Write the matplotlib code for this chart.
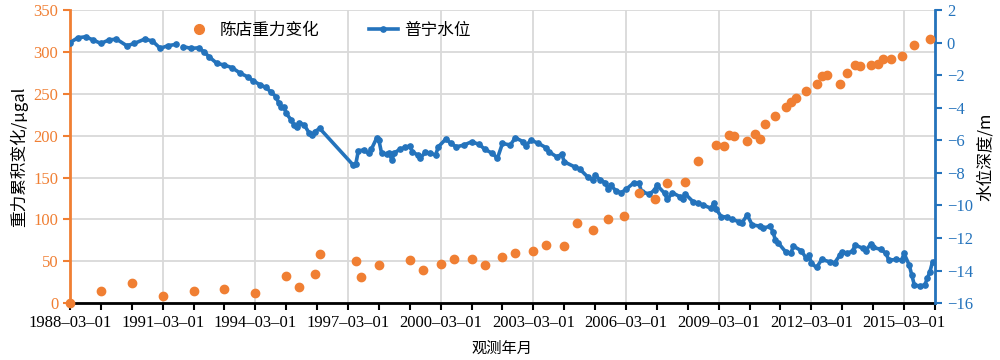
import matplotlib
matplotlib.use('Agg')
import matplotlib.pyplot as plt
import matplotlib.dates as mdates
from matplotlib.lines import Line2D
import numpy as np
import pandas as pd

# 陈店重力累积变化 (μgal)
grav_dates = ['1988-03', '1989-03', '1990-03', '1991-03', '1992-03', '1993-03', '1994-03',
              '1995-03', '1995-08', '1996-02', '1996-04', '1997-06', '1997-08', '1998-03',
              '1999-03', '1999-08', '2000-03', '2000-08', '2001-03', '2001-08', '2002-03',
              '2002-08', '2003-03', '2003-08', '2004-03', '2004-08', '2005-02', '2005-08',
              '2006-02', '2006-08', '2007-02', '2007-07', '2008-02', '2008-07', '2009-02',
              '2009-05', '2009-07', '2009-09', '2010-02', '2010-05', '2010-07', '2010-09',
              '2011-01', '2011-05', '2011-07', '2011-09', '2012-01', '2012-05', '2012-07',
              '2012-09', '2013-02', '2013-05', '2013-08', '2013-10', '2014-02', '2014-05',
              '2014-07', '2014-10', '2015-02', '2015-07', '2016-01']
grav_vals = [0, 14, 24, 9, 14, 17, 12,
             32, 19, 35, 59, 50, 31, 46,
             52, 40, 47, 53, 53, 46, 55,
             60, 62, 69, 68, 96, 87, 100,
             104, 131, 124, 143, 145, 170, 189,
             188, 201, 200, 194, 202, 196, 214,
             224, 234, 240, 245, 253, 262, 271,
             272, 262, 275, 285, 283, 284, 286,
             292, 291, 295, 308, 316]

# 普宁水位深度 (m)
wl_dates = ['1988-03', '1988-06', '1988-09', '1988-12', '1989-03', '1989-06', '1989-09',
            '1990-01', '1990-04', '1990-08', '1990-11', '1991-02', '1991-05', '1991-08',
            '1991-10', '1991-11', '1992-02', '1992-05', '1992-07', '1992-09', '1992-12',
            '1993-03', '1993-06', '1993-09', '1993-12', '1994-02', '1994-05', '1994-07',
            '1994-09', '1994-11', '1994-12', '1995-01', '1995-02', '1995-03', '1995-05',
            '1995-06', '1995-07', '1995-08', '1995-10', '1995-12', '1996-01', '1996-02',
            '1996-04', '1997-05', '1997-06', '1997-07', '1997-09', '1997-11', '1997-12',
            '1998-02', '1998-03', '1998-04', '1998-06', '1998-07', '1998-08', '1998-09',
            '1998-11', '1999-01', '1999-03', '1999-04', '1999-06', '1999-07', '1999-09',
            '1999-11', '2000-01', '2000-02', '2000-05', '2000-07', '2000-09', '2000-12',
            '2001-03', '2001-06', '2001-08', '2001-11', '2002-01', '2002-03', '2002-06',
            '2002-08', '2002-11', '2002-12', '2003-02', '2003-05', '2003-08', '2003-09',
            '2003-12', '2004-02', '2004-03', '2004-07', '2004-09', '2004-12', '2005-02',
            '2005-03', '2005-05', '2005-07', '2005-08', '2005-09', '2005-11', '2006-01',
            '2006-03', '2006-06', '2006-08', '2006-09', '2006-12', '2007-02', '2007-03',
            '2007-06', '2007-07', '2007-09', '2007-12', '2008-01', '2008-02', '2008-05',
            '2008-07', '2008-09', '2008-12', '2009-01', '2009-02', '2009-04', '2009-06',
            '2009-08', '2009-11', '2009-12', '2010-02', '2010-04', '2010-07', '2010-08',
            '2010-11', '2010-12', '2011-01', '2011-02', '2011-05', '2011-07', '2011-08',
            '2011-11', '2012-01', '2012-02', '2012-03', '2012-05', '2012-07', '2012-10',
            '2012-12', '2013-02', '2013-03', '2013-05', '2013-07', '2013-08', '2013-11',
            '2013-12', '2014-02', '2014-03', '2014-06', '2014-08', '2014-09', '2014-12',
            '2015-02', '2015-03', '2015-05', '2015-06', '2015-07', '2015-09', '2015-11',
            '2015-12', '2016-01', '2016-02']
wl_vals = [0.0, 0.30, 0.36, 0.16, -0.05, 0.16, 0.22,
           -0.19, -0.05, 0.22, 0.10, -0.35, -0.19, -0.11,
           np.nan, -0.25, -0.35, -0.32, -0.56, -0.87, -1.27,
           -1.38, -1.54, -1.87, -2.10, -2.34, -2.60, -2.75,
           -3.02, -3.32, -3.69, -3.94, -3.94, -4.35, -4.76,
           -5.06, -5.17, -4.92, -5.06, -5.58, -5.68, -5.47,
           -5.27, -7.52, -7.46, -6.64, -6.60, -6.80, -6.56,
           -5.88, -5.99, -6.77, -6.85, -6.77, -7.21, -6.77,
           -6.56, -6.44, -6.35, -6.70, -6.90, -7.10, -6.74,
           -6.80, -6.90, -6.40, -5.92, -6.19, -6.40, -6.29,
           -6.09, -6.25, -6.54, -6.80, -7.10, -6.19, -6.29,
           -5.84, -6.09, -6.34, -5.99, -6.19, -6.46, -6.70,
           -7.01, -6.86, -7.32, -7.63, -7.77, -8.24, -8.44,
           -8.14, -8.44, -8.61, -9.01, -8.75, -9.10, -9.22,
           -9.01, -8.61, -8.65, -9.16, -9.30, -9.06, -8.75,
           -9.26, -9.63, -9.22, -9.47, -9.63, -9.30, -9.77,
           -9.87, -9.98, -10.18, -9.87, -10.24, -10.70, -10.70,
           -10.86, -11.00, -11.06, -10.59, -11.20, -11.27, -11.41,
           -11.27, -11.62, -12.13, -12.29, -12.85, -12.95, -12.50,
           -12.78, -13.25, -13.05, -13.56, -13.81, -13.32, -13.46,
           -13.52, -13.05, -12.85, -12.95, -12.78, -12.43, -12.64,
           -12.78, -12.37, -12.58, -12.70, -12.95, -13.36, -13.32,
           -13.36, -12.95, -13.66, -14.28, -14.89, -14.95, -14.89,
           -14.48, -14.07, -13.46]

orange = '#F07F33'
blue = '#2473BC'
cjk = ['Noto Sans CJK SC', 'DejaVu Sans']
serif = 'Liberation Serif'

gx = pd.to_datetime(grav_dates)
wx = pd.to_datetime(wl_dates)

fig = plt.figure(figsize=(10, 3.6), dpi=100)
ax = fig.add_axes([0.07, 0.158, 0.865, 0.814])
ax2 = ax.twinx()

# water level line (right axis)
ax2.plot(wx, wl_vals, color=blue, lw=2.6, marker='o', ms=3.8, zorder=3)

# gravity points drawn above the line, using the left axis scale
ax2.scatter(gx, grav_vals, s=36, color=orange, zorder=4,
            transform=ax.transData, clip_on=False)

ax.set_xlim(pd.Timestamp('1988-03-01'), pd.Timestamp('2016-03-01'))
ax.set_ylim(0, 350)
ax2.set_ylim(-16, 2)
ax.set_yticks(np.arange(0, 351, 50))
ax2.set_yticks(np.arange(-16, 3, 2))

ax.set_xticks([pd.Timestamp(f'{y}-03-01') for y in range(1988, 2016, 3)])
ax.xaxis.set_minor_locator(mdates.YearLocator(1, month=3, day=1))
ax.xaxis.set_major_formatter(mdates.DateFormatter('%Y\u2013%m\u2013%d'))

ax.grid(True, which='major', color='#D9D9D9', lw=1.3)
ax.set_axisbelow(True)

ax.spines['top'].set_visible(False)
ax2.spines['top'].set_visible(False)
ax.spines['left'].set_color(orange)
ax.spines['left'].set_linewidth(2)
ax2.spines['left'].set_visible(False)
ax2.spines['right'].set_color(blue)
ax2.spines['right'].set_linewidth(2)
ax.spines['bottom'].set_linewidth(2)
ax2.spines['bottom'].set_visible(False)

ax.tick_params(axis='x', which='both', length=5, width=1.5, colors='black', labelsize=12)
ax.tick_params(axis='y', length=5, width=1.5, colors=orange, labelsize=12)
ax2.tick_params(axis='y', length=5, width=1.5, colors=blue, labelsize=12)
for lab in ax.get_xticklabels() + ax.get_yticklabels() + ax2.get_yticklabels():
    lab.set_fontfamily(serif)

ax.set_ylabel('重力累积变化/μgal', family=cjk, fontsize=12, labelpad=4)
ax2.set_ylabel('水位深度/m', family=cjk, fontsize=12, labelpad=3)
ax.set_xlabel('观测年月', family=cjk, fontsize=11, labelpad=6)

handles = [Line2D([], [], ls='none', marker='o', ms=7, color=orange),
           Line2D([], [], color=blue, lw=2.6, marker='o', ms=3.8)]
labels = ['陈店重力变化', '普宁水位']
ax2.legend(handles, labels, loc='upper left', bbox_to_anchor=(0.115, 1.01), ncol=2,
           frameon=False, columnspacing=3.0, handlelength=1.7, handletextpad=0.4,
           prop={'family': cjk, 'size': 12})

fig.savefig('out.png', dpi=100)
